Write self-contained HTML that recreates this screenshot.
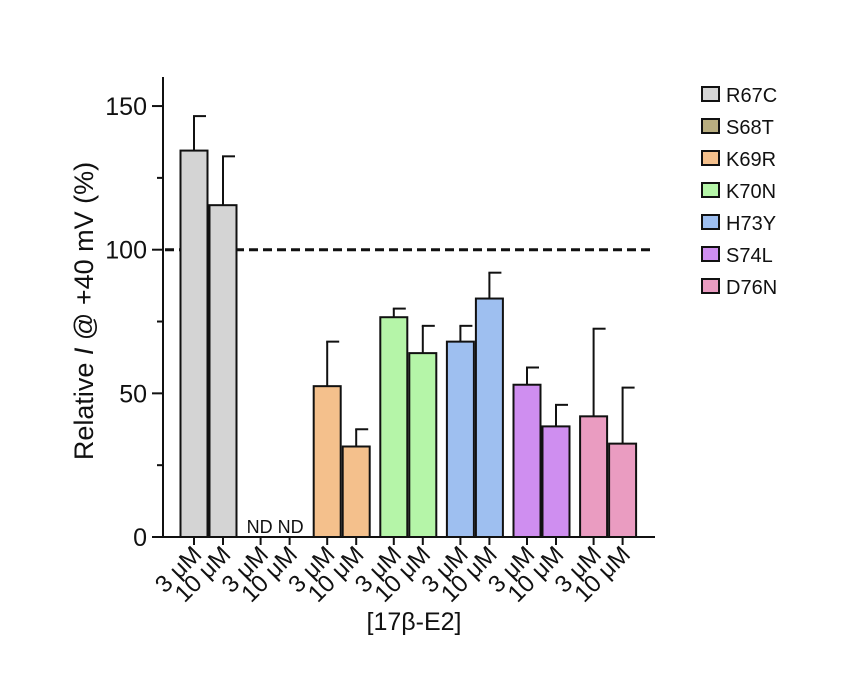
<!DOCTYPE html>
<html><head><meta charset="utf-8"><style>
body{margin:0;background:#fff}
svg text{font-family:"Liberation Sans",sans-serif;fill:#111}
</style></head><body>
<svg width="856" height="690" viewBox="0 0 856 690" xmlns="http://www.w3.org/2000/svg">
<g id="plot"></g>
</svg>
<script>
const groups=["R67C","S68T","K69R","K70N","H73Y","S74L","D76N"];
const colors=["#d4d4d4","#b9ae80","#f4c08c","#b5f5a8","#9ebff0","#cf8ef0","#ea9cc1"];
const means3=[134.5,null,52.5,76.5,68,53,42];
const errs3=[146.5,null,68,79.5,73.5,59,72.5];
const means10=[115.5,null,31.5,64,83,38.5,32.5];
const errs10=[132.5,null,37.5,73.5,92,46,52];
const doseLabels=["3 μM","10 μM"];
const yTicks=[0,50,100,150];
const NS="http://www.w3.org/2000/svg";
const g=document.getElementById('plot');
const y=v=>537-v*2.873;
const x=(gi,d)=>194+gi*66.6+d*29;
function el(t,a,p){const e=document.createElementNS(NS,t);for(const k in a)e.setAttribute(k,a[k]);(p||g).appendChild(e);return e;}
let ax=el('line',{x1:163,y1:77,x2:163,y2:538,stroke:'#111','stroke-width':2});


let xa=el('line',{x1:162,y1:537,x2:655,y2:537,stroke:'#111','stroke-width':2});


for(let v=0;v<=150;v+=25){el('line',{x1:v%50?157:152,y1:y(v),x2:163,y2:y(v),stroke:'#111','stroke-width':2});}
yTicks.forEach(v=>{const t=el('text',{x:147,y:y(v)+9,'text-anchor':'end','font-size':25});t.textContent=v;

});
let ref=el('line',{x1:165,y1:y(100),x2:652,y2:y(100),stroke:'#111','stroke-width':3,'stroke-dasharray':'9 5'});


const series=[[means3,errs3],[means10,errs10]];
groups.forEach((gn,gi)=>{
 [0,1].forEach(d=>{
  const cx=x(gi,d);const m=series[d][0][gi],e=series[d][1][gi];
  el('line',{x1:cx,y1:537,x2:cx,y2:545,stroke:'#111','stroke-width':2});
  const lt=el('text',{x:0,y:0,'text-anchor':'end','font-size':24,transform:`translate(${cx+9},${556}) rotate(-45)`});
  lt.textContent=doseLabels[d];
  
  
  if(m==null){const t=el('text',{x:cx+(d?1:-1),y:533,'text-anchor':'middle','font-size':18});t.textContent='ND';
   
   return;}
  el('line',{x1:cx,y1:y(m),x2:cx,y2:y(e),stroke:'#111','stroke-width':2});
  el('line',{x1:cx-1,y1:y(e),x2:cx+12,y2:y(e),stroke:'#111','stroke-width':2});
  const r=el('rect',{x:cx-13.5,y:y(m),width:27,height:537-y(m),fill:colors[gi],stroke:'#111','stroke-width':2});
  
  
 });
 const ly=95+gi*32;
 const lr=el('rect',{x:702,y:ly-8,width:17,height:14,fill:colors[gi],stroke:'#111','stroke-width':2});
 
 
 const lt=el('text',{x:726,y:ly+7,'font-size':20});lt.textContent=gn;
 
 
});
const yl=el('text',{x:0,y:0,'text-anchor':'middle','font-size':27,transform:'translate(93,311) rotate(-90)'});
yl.innerHTML='Relative <tspan font-style="italic">I</tspan> @ +40 mV (%)';


const xl=el('text',{x:414,y:630,'text-anchor':'middle','font-size':25});
xl.textContent='[17β-E2]';


</script>
</body></html>
